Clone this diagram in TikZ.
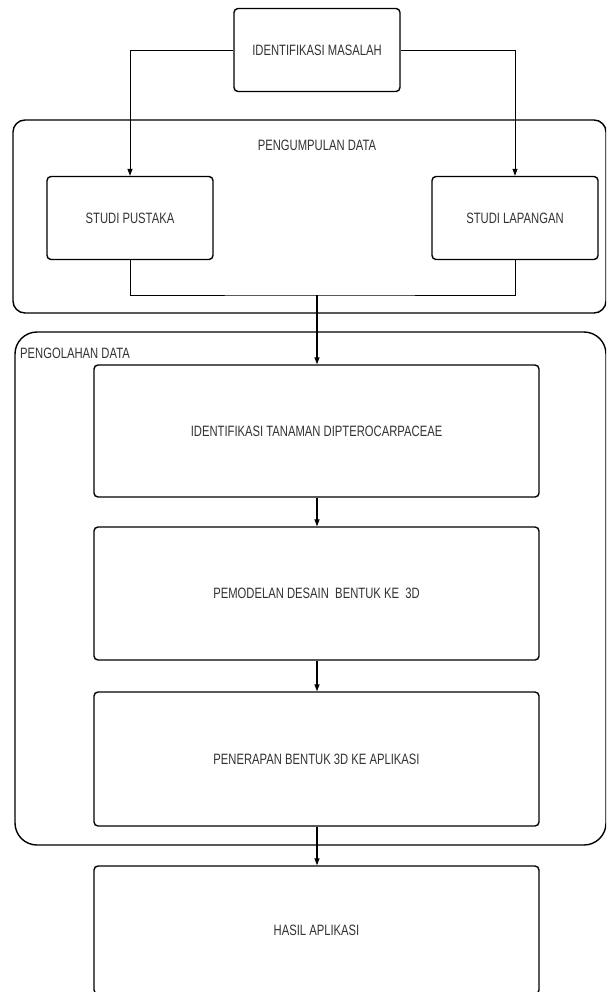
\documentclass[tikz,border=0pt]{standalone}
\usepackage{fontspec}
\setmainfont{Liberation Sans}[FakeStretch=0.75]
\usetikzlibrary{arrows.meta}
\definecolor{txt}{HTML}{333333}
\tikzset{
  stepbox/.style={draw=black, line width=1.4pt, rounded corners=4pt, fill=white,
    text=txt, font=\fontsize{15}{17}\selectfont, inner sep=0pt},
  groupbox/.style={draw=black, line width=1.4pt, fill=white},
  conn/.style={draw=black, line width=0.8pt},
  arr/.style={conn, -{Triangle[length=7pt,width=5pt]}},
  lbl/.style={text=txt, font=\fontsize{15}{17}\selectfont, inner sep=0pt}
}
\begin{document}
\begin{tikzpicture}[x=1pt,y=-1pt]
\useasboundingbox (0,0) rectangle (606,992);
\clip (0,0) rectangle (606,992);
% groups
\draw[groupbox, rounded corners=12pt] (13,120) rectangle (606,313);
\node[lbl] (g1) at (317,145) {PENGUMPULAN DATA};
\draw[groupbox, rounded corners=22pt] (15,332) rectangle (606,845);
\node[lbl, anchor=west] (g2) at (20,353) {PENGOLAHAN DATA};
% nodes
\node[stepbox, minimum width=166pt, minimum height=83pt] (top) at (317,50) {IDENTIFIKASI MASALAH};
\node[stepbox, minimum width=166pt, minimum height=83pt] (sp) at (130,218) {STUDI PUSTAKA};
\node[stepbox, minimum width=166pt, minimum height=83pt] (sl) at (515,218) {STUDI LAPANGAN};
\node[stepbox, minimum width=445pt, minimum height=132pt] (a) at (316.5,431) {IDENTIFIKASI TANAMAN DIPTEROCARPACEAE};
\node[stepbox, minimum width=445pt, minimum height=133pt] (b) at (316.5,593.5) {PEMODELAN DESAIN\ \ BENTUK KE\ \ 3D};
\node[stepbox, minimum width=445pt, minimum height=134pt] (c) at (316.5,759) {PENERAPAN BENTUK 3D KE APLIKASI};
\node[stepbox, minimum width=445pt, minimum height=128pt] (d) at (316.5,930) {HASIL APLIKASI};
\coordinate (merge) at (317,295);
% connectors
\draw[arr] (top.west) -| (sp.north);
\draw[arr] (top.east) -| (sl.north);
\draw[conn] (sp.south) |- (merge) -| (sl.south);
\draw[arr, line width=1.2pt] (merge) -- (merge |- a.north);
\draw[arr, line width=1.2pt] (a.south -| merge) -- (b.north -| merge);
\draw[arr, line width=1.2pt] (b.south -| merge) -- (c.north -| merge);
\draw[arr, line width=1.2pt] (c.south -| merge) -- (d.north -| merge);
\end{tikzpicture}
\end{document}
